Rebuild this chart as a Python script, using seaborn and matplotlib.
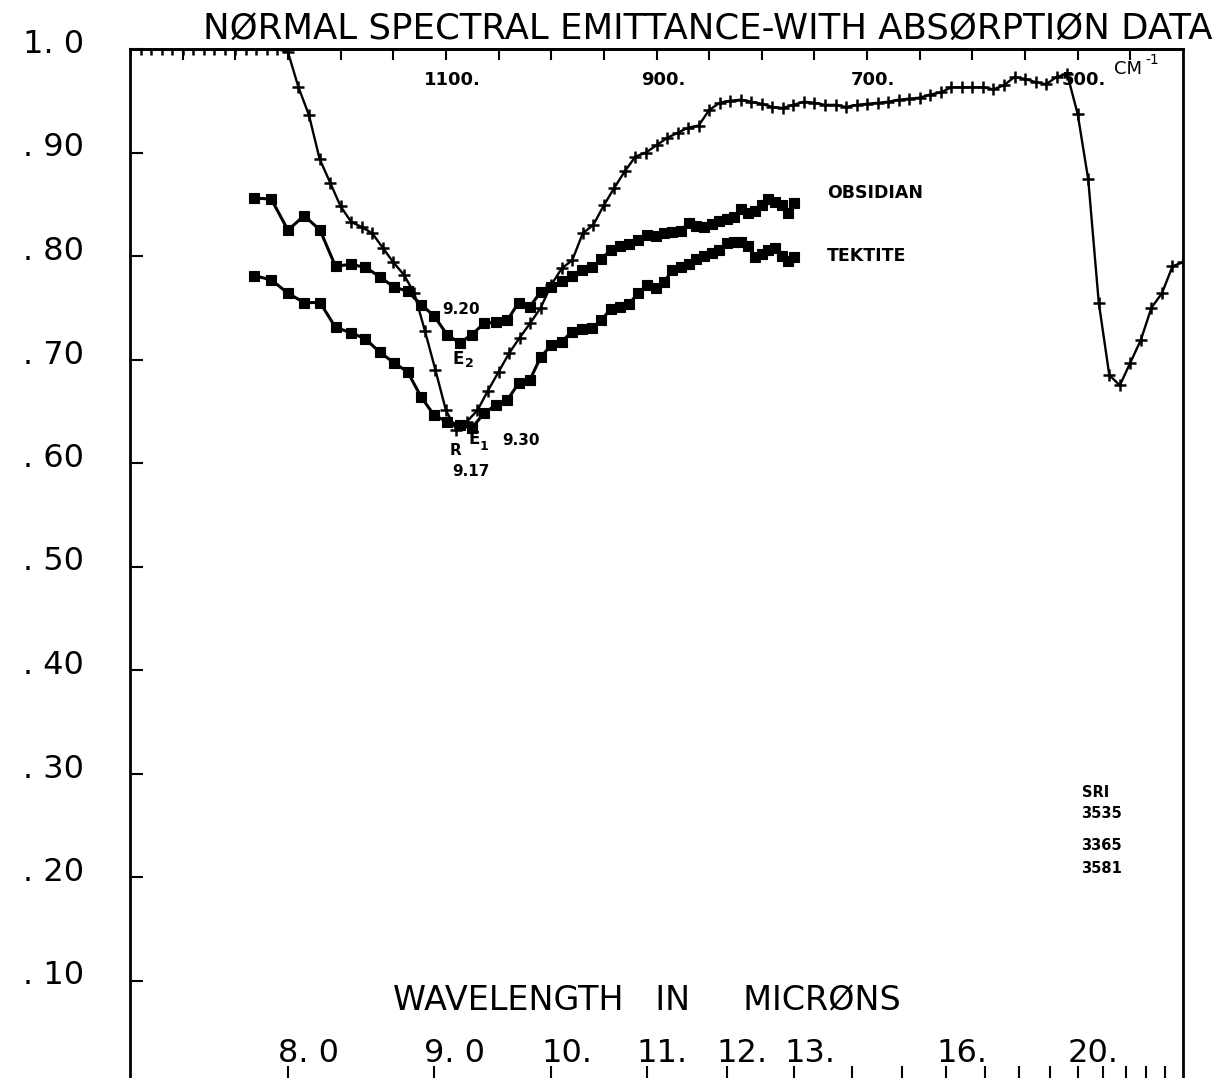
import numpy as np
import matplotlib
matplotlib.use("Agg")
import matplotlib.pyplot as plt
import seaborn as sns
from matplotlib import transforms

sns.set_style("white")
plt.rcParams["font.family"] = ["DejaVu Sans"]
plt.rcParams["text.color"] = "black"

# R curve, sampled every 10 cm-1 from 1400 down to 400
r_wavenumber = np.arange(1400, 399, -10)
r_emittance = [1.0] * 15 + [
    0.997, 0.963, 0.936, 0.894, 0.871, 0.848, 0.833, 0.828, 0.822, 0.808,
    0.794, 0.782, 0.764, 0.728, 0.690, 0.651, 0.632, 0.640, 0.651, 0.670,
    0.688, 0.706, 0.721, 0.735, 0.750, 0.772, 0.788, 0.796, 0.822, 0.830,
    0.849, 0.866, 0.882, 0.896, 0.900, 0.907, 0.914, 0.919, 0.924, 0.926,
    0.941, 0.948, 0.950, 0.951, 0.949, 0.947, 0.944, 0.943, 0.946, 0.949,
    0.948, 0.946, 0.946, 0.944, 0.946, 0.947, 0.948, 0.949, 0.951, 0.952,
    0.953, 0.956, 0.958, 0.963, 0.963, 0.963, 0.963, 0.961, 0.965, 0.973,
    0.971, 0.968, 0.966, 0.973, 0.976, 0.937, 0.874, 0.755, 0.685, 0.675,
    0.697, 0.719, 0.750, 0.764, 0.790, 0.794,
]

# obsidian / tektite emittance, every 0.1 micron from 7.8 to 13.0
sample_microns = np.round(np.arange(7.8, 13.05, 0.1), 1)
obsidian = [
    0.856, 0.855, 0.825, 0.839, 0.825, 0.790, 0.792, 0.789, 0.780, 0.770,
    0.766, 0.753, 0.742, 0.724, 0.716, 0.724, 0.735, 0.736, 0.738, 0.755,
    0.751, 0.765, 0.770, 0.776, 0.781, 0.786, 0.789, 0.797, 0.806, 0.810,
    0.812, 0.815, 0.820, 0.819, 0.822, 0.823, 0.824, 0.832, 0.829, 0.828,
    0.831, 0.834, 0.836, 0.838, 0.845, 0.842, 0.843, 0.849, 0.855, 0.852,
    0.849, 0.842, 0.851,
]
tektite = [
    0.781, 0.777, 0.764, 0.755, 0.755, 0.731, 0.726, 0.720, 0.707, 0.697,
    0.688, 0.664, 0.646, 0.640, 0.637, 0.634, 0.648, 0.656, 0.661, 0.677,
    0.680, 0.702, 0.714, 0.717, 0.727, 0.729, 0.730, 0.738, 0.749, 0.751,
    0.754, 0.764, 0.772, 0.769, 0.775, 0.786, 0.789, 0.792, 0.797, 0.800,
    0.803, 0.806, 0.813, 0.814, 0.814, 0.810, 0.799, 0.802, 0.806, 0.808,
    0.800, 0.795, 0.799,
]

y_ticks = [0.1, 0.2, 0.3, 0.4, 0.5, 0.6, 0.7, 0.8, 0.9, 1.0]
y_labels = [". 10", ". 20", ". 30", ". 40", ". 50", ". 60", ". 70", ". 80", ". 90", "1. 0"]
micron_ticks = [8, 9, 10, 11, 12, 13, 14, 15, 16, 17, 18, 19, 20, 21, 22, 23, 24]
micron_labeled = [8, 9, 10, 11, 12, 13, 16, 20]
micron_labels = ["8. 0", "9. 0", "10.", "11.", "12.", "13.", "16.", "20."]
wn_ticks = [1350, 1300, 1250, 1200, 1150, 1100, 1050, 1000, 950, 900, 850,
            800, 750, 700, 650, 600, 550, 500, 450]
wn_labeled = [1100, 900, 700, 500]
wn_labels = ["1100.", "900.", "700.", "500."]

fig = plt.figure(figsize=(12.2, 10.78), dpi=100)
ax = fig.add_axes([130 / 1220, -6 / 1078, 1053 / 1220, 1035 / 1078])

sample_wn = 10000.0 / sample_microns
sns.lineplot(x=r_wavenumber, y=r_emittance, ax=ax, color="black", lw=1.7,
             marker="+", markersize=8, markeredgewidth=1.8, markeredgecolor="black")
sns.lineplot(x=sample_wn, y=obsidian, ax=ax, color="black", lw=2.2,
             marker="s", markersize=7, markeredgewidth=0.8, markeredgecolor="black")
sns.lineplot(x=sample_wn, y=tektite, ax=ax, color="black", lw=2.2,
             marker="s", markersize=7, markeredgewidth=0.8, markeredgecolor="black")

ax.set_xlim(1400, 400)
ax.set_ylim(0, 1.0)
ax.set_xlabel("")
ax.set_ylabel("")

for s in ax.spines.values():
    s.set_linewidth(2)
    s.set_color("black")

ax.set_yticks(y_ticks)
ax.set_yticklabels(y_labels)
ax.tick_params(axis="y", direction="in", length=9, width=1.5, pad=33,
               labelsize=23, labelcolor="black", color="black", left=True, right=False)
up = transforms.ScaledTranslation(0, 8 / 100, fig.dpi_scale_trans)
for lab in ax.get_yticklabels():
    lab.set_transform(lab.get_transform() + up)

ax.set_xticks(10000.0 / np.array(micron_ticks))
ax.set_xticklabels([])
ax.tick_params(axis="x", direction="in", length=13, width=1.5, color="black",
               bottom=True, top=False)

top = ax.secondary_xaxis("top")
top.set_xticks(wn_ticks)
top.set_xticklabels([])
top.tick_params(direction="in", length=8, width=1.5, color="black")
top.spines["top"].set_linewidth(2)
top.spines["top"].set_color("black")

# labels drawn inside the frame, like the plotter did
left_shift = ax.transData + transforms.ScaledTranslation(-0.10, 0, fig.dpi_scale_trans)
for m, lab in zip(micron_labeled, micron_labels):
    ax.text(10000.0 / m, 0.0213, lab, transform=left_shift, ha="left",
            va="baseline", fontsize=23)
ax.text(1150, 0.0715, "WAVELENGTH   IN     MICRØNS", ha="left", va="baseline",
        fontsize=24)

for w, lab in zip(wn_labeled, wn_labels):
    ax.text(w - 6, 0.9705, lab, ha="center", va="center", fontsize=13, weight="bold")
ax.text(465.5, 0.981, "CM", ha="left", va="center", fontsize=13)
ax.text(436, 0.989, "-1", ha="left", va="center", fontsize=10)

fig.text(203 / 1220, 1 - 39 / 1078, "NØRMAL SPECTRAL EMITTANCE-WITH ABSØRPTIØN DATA",
         ha="left", va="baseline", fontsize=25.6)

# curve annotations
bold = dict(weight="bold", ha="left", va="center")
ax.text(738, 0.861, "OBSIDIAN", fontsize=12.5, **bold)
ax.text(738, 0.800, "TEKTITE", fontsize=12.5, **bold)
ax.text(1103.7, 0.748, "9.20", fontsize=11, **bold)
ax.text(1094.2, 0.700, "E", fontsize=12, **bold)
ax.text(1081.9, 0.696, "2", fontsize=9, **bold)
ax.text(1096, 0.612, "R", fontsize=11, **bold)
ax.text(1079, 0.623, "E", fontsize=12, **bold)
ax.text(1067.6, 0.616, "1", fontsize=9, **bold)
ax.text(1046.7, 0.622, "9.30", fontsize=11, **bold)
ax.text(1094, 0.592, "9.17", fontsize=11, **bold)
ax.text(496, 0.282, "SRI", fontsize=10.5, **bold)
ax.text(497, 0.261, "3535", fontsize=10.5, **bold)
ax.text(497, 0.230, "3365", fontsize=10.5, **bold)
ax.text(497, 0.208, "3581", fontsize=10.5, **bold)

fig.savefig("out.png", dpi=100)
